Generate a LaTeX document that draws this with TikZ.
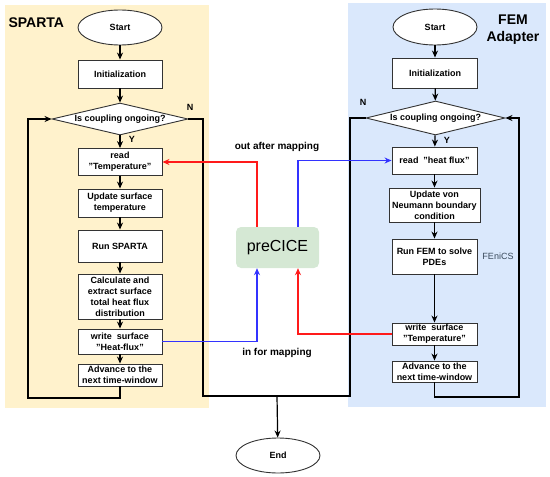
\documentclass[tikz,border=0pt]{standalone}
\usepackage{fontspec}
\setmainfont{Liberation Sans}
\usetikzlibrary{shapes.geometric,arrows.meta}
\definecolor{panelY}{HTML}{FFF2CC}
\definecolor{panelB}{HTML}{DAE8FC}
\definecolor{pcgreen}{HTML}{D5E8D4}
\definecolor{myred}{HTML}{FF1A1A}
\definecolor{myblue}{HTML}{3333FF}
\definecolor{fenics}{HTML}{3A4A5C}
\tikzset{
  box/.style={draw=black!80, line width=0.9pt, fill=white, align=center, font=\fontsize{9}{11}\selectfont\bfseries, inner sep=1pt},
  oval/.style={ellipse, draw=black!80, line width=0.9pt, fill=white, font=\fontsize{9}{11}\selectfont\bfseries, minimum width=84pt, minimum height=35pt},
  dia/.style={diamond, draw=black!80, line width=0.9pt, fill=white, font=\fontsize{9}{11}\selectfont\bfseries, inner sep=0pt, aspect=4.25},
  arr/.style={line width=1.2pt, -{Stealth[length=7pt,width=6pt]}},
  ln/.style={line width=1.2pt},
  rarr/.style={myred, line width=1.1pt, -{Stealth[length=7pt,width=6pt]}},
  barr/.style={myblue, line width=1.1pt, -{Stealth[length=7pt,width=6pt]}},
  lbl/.style={font=\fontsize{9}{11}\selectfont\bfseries, inner sep=0pt},
}
\begin{document}
\begin{tikzpicture}[x=1pt,y=-1pt]
\useasboundingbox (0,0) rectangle (550,477);
% panels
\fill[panelY] (5,5) rectangle (209,408);
\fill[panelB] (348,3) rectangle (546,407);
\node[font=\fontsize{14}{16}\selectfont\bfseries, anchor=west] (tsp) at (5,23) {SPARTA};
\node[font=\fontsize{14}{17}\selectfont\bfseries, align=center] (tfem) at (513,30) {FEM\\Adapter};

% left column
\node[oval] (ls) at (120,27.5) {Start};
\node[box, minimum width=84pt, minimum height=28pt] (li) at (120,74) {Initialization};
\node[dia, minimum width=136pt, minimum height=32pt] (ld) at (120,119) {Is coupling ongoing?};
\node[box, minimum width=84pt, minimum height=27pt] (lr) at (120,162) {read\\"Temperature"};
\node[box, minimum width=84pt, minimum height=28pt] (lu) at (120,203) {Update surface\\temperature};
\node[box, minimum width=84pt, minimum height=32pt] (lrun) at (120,246) {Run SPARTA};
\node[box, minimum width=84pt, minimum height=45pt] (lc) at (120,296.5) {Calculate and\\extract surface\\total heat flux\\distribution};
\node[box, minimum width=84pt, minimum height=25pt] (lw) at (120,341.5) {write\ \ surface\\"Heat-flux"};
\node[box, minimum width=84pt, minimum height=22pt] (la) at (120,375) {Advance to the\\next time-window};

% right column
\node[oval, minimum height=36pt] (rs) at (435,27) {Start};
\node[box, minimum width=85pt, minimum height=30pt] (ri) at (435,73) {Initialization};
\node[dia, minimum width=139pt, minimum height=34pt] (rd) at (435.5,118) {Is coupling ongoing?};
\node[box, minimum width=85pt, minimum height=27pt] (rr) at (434.5,160.5) {read\ \ "heat flux"};
\node[box, minimum width=91pt, minimum height=34pt] (ru) at (434.5,205) {Update von\\Neumann boundary\\condition};
\node[box, minimum width=85pt, minimum height=35pt] (rf) at (434.5,256.5) {Run FEM to solve\\PDEs};
\node[box, minimum width=85pt, minimum height=22pt] (rw) at (434.5,334) {write\ \ surface\\"Temperature"};
\node[box, minimum width=85pt, minimum height=21pt] (ra) at (434.5,371.5) {Advance to the\\next time-window};
\node[font=\fontsize{9}{11}\selectfont, text=fenics] (fen) at (498,256) {FEniCS};

% preCICE and End
\node[fill=pcgreen, rounded corners=5pt, minimum width=83pt, minimum height=41pt, font=\fontsize{16}{18}\selectfont] (pc) at (277.5,247.5) {preCICE};
\node[oval] (end) at (278,455.5) {End};

% flow arrows left
\draw[arr] (ls) -- (li);
\draw[arr] (li) -- (ld);
\draw[arr] (ld) -- (lr);
\draw[arr] (lr) -- (lu);
\draw[arr] (lu) -- (lrun);
\draw[arr] (lrun) -- (lc);
\draw[arr] (lc) -- (lw);
\draw[arr] (lw) -- (la);
% flow arrows right
\draw[arr] (rs) -- (ri);
\draw[arr] (ri) -- (rd);
\draw[arr] (rd) -- (rr);
\draw[arr] (rr) -- (ru);
\draw[arr] (ru) -- (rf);
\draw[arr] (rf) -- (rw);
\draw[arr] (rw) -- (ra);

% loops
\draw[arr] (la.south) -- (120,398) -- (28,398) |- (ld.west);
\draw[arr] (ra.south) -- (434.5,397) -- (519,397) |- (rd.east);
\coordinate (nb) at (277,396);
\draw[ln] (ld.east) -- (203,119) |- (nb);
\draw[ln] (rd.west) -- (350,118) |- (nb);
\draw[arr] (nb) -- (end);

% labels
\node[lbl] (n1) at (190,107) {N};
\node[lbl] (y1) at (132,139) {Y};
\node[lbl] (n2) at (363,102) {N};
\node[lbl] (y2) at (447,140) {Y};
\node[font=\fontsize{10}{12}\selectfont\bfseries] (tout) at (277,147) {out after mapping};
\node[font=\fontsize{10}{12}\selectfont\bfseries] (tin) at (277,353) {in for mapping};

% coupling arrows
\draw[rarr] (pc.north -| 257,0) |- (lr.east);
\draw[barr] (pc.north -| 298,0) |- (rr.west);
\draw[barr] (lw.east) -| (pc.south -| 257,0);
\draw[rarr] (rw.west) -| (pc.south -| 298,0);
\end{tikzpicture}
\end{document}
